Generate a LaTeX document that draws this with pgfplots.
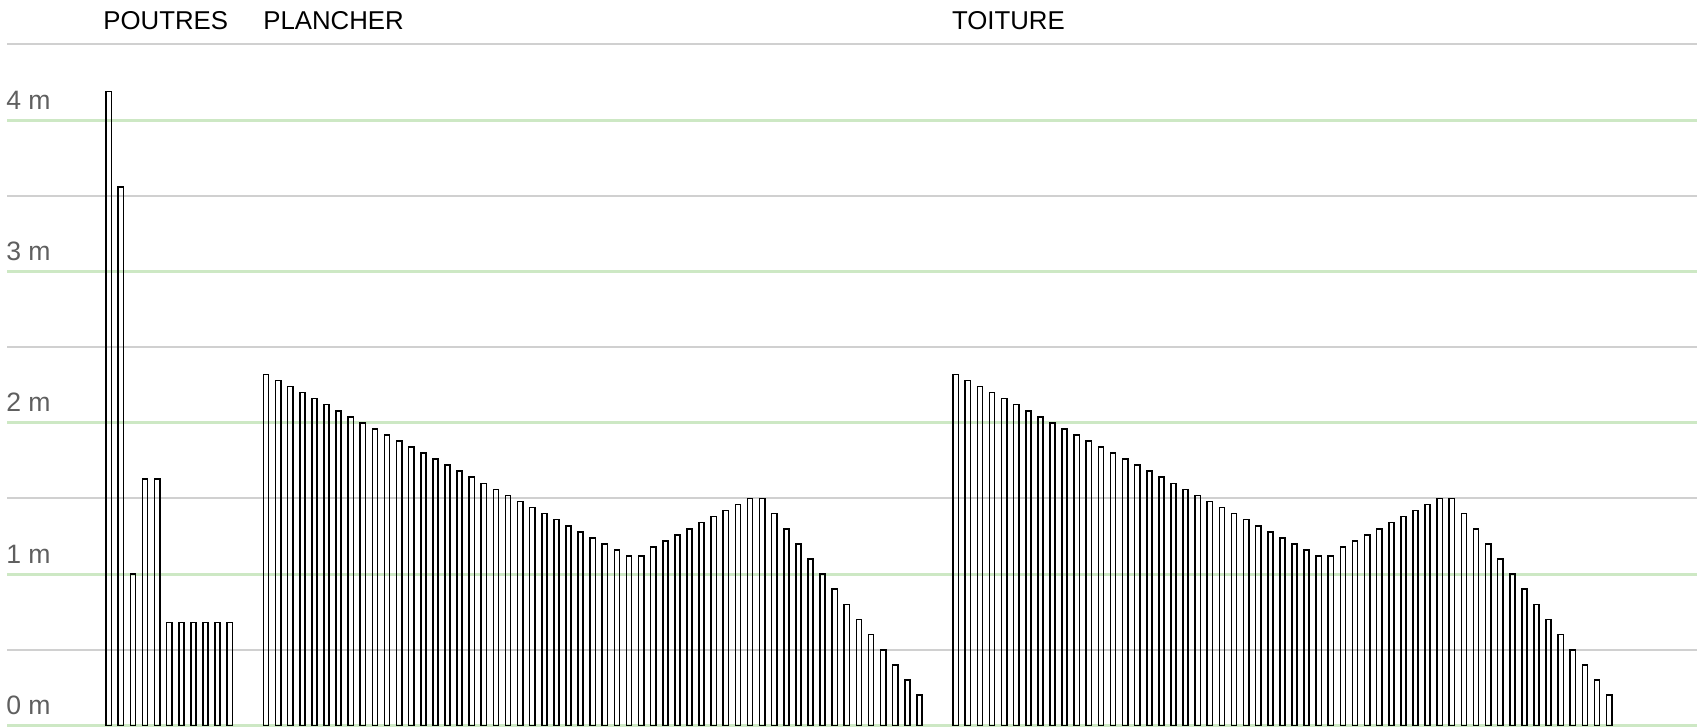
\documentclass[border=0pt]{standalone}
\usepackage{fontspec}
\setmainfont{Liberation Sans}
\usepackage{pgfplots}
\usepackage{pgfplotstable}
\pgfplotsset{compat=1.18}
\definecolor{gridgreen}{RGB}{205,232,196}
\definecolor{gridgray}{RGB}{208,208,208}
\definecolor{labgray}{RGB}{95,95,95}

% bar heights in metres, x = slot index (two empty slots between groups)
\pgfplotstableread{
x h
0 4.19
1 3.56
2 1.00
3 1.63
4 1.63
5 0.68
6 0.68
7 0.68
8 0.68
9 0.68
10 0.68
}\poutres
\pgfplotstableread{
x h
13 2.32
14 2.28
15 2.24
16 2.20
17 2.16
18 2.12
19 2.08
20 2.04
21 2.00
22 1.96
23 1.92
24 1.88
25 1.84
26 1.80
27 1.76
28 1.72
29 1.68
30 1.64
31 1.60
32 1.56
33 1.52
34 1.48
35 1.44
36 1.40
37 1.36
38 1.32
39 1.28
40 1.24
41 1.20
42 1.16
43 1.12
44 1.12
45 1.18
46 1.22
47 1.26
48 1.30
49 1.34
50 1.38
51 1.42
52 1.46
53 1.50
54 1.50
55 1.40
56 1.30
57 1.20
58 1.10
59 1.00
60 0.90
61 0.80
62 0.70
63 0.60
64 0.50
65 0.40
66 0.30
67 0.20
}\plancher
\pgfplotstableread{
x h
70 2.32
71 2.28
72 2.24
73 2.20
74 2.16
75 2.12
76 2.08
77 2.04
78 2.00
79 1.96
80 1.92
81 1.88
82 1.84
83 1.80
84 1.76
85 1.72
86 1.68
87 1.64
88 1.60
89 1.56
90 1.52
91 1.48
92 1.44
93 1.40
94 1.36
95 1.32
96 1.28
97 1.24
98 1.20
99 1.16
100 1.12
101 1.12
102 1.18
103 1.22
104 1.26
105 1.30
106 1.34
107 1.38
108 1.42
109 1.46
110 1.50
111 1.50
112 1.40
113 1.30
114 1.20
115 1.10
116 1.00
117 0.90
118 0.80
119 0.70
120 0.60
121 0.50
122 0.40
123 0.30
124 0.20
}\toiture

\begin{document}
\begin{tikzpicture}[
  ylab/.style={anchor=base west, labgray, inner sep=0pt, yshift=5.5pt,
    font=\fontsize{13.3}{15}\selectfont},
  grp/.style={anchor=base west, inner sep=0pt,
    font=\fontsize{12.9}{15}\selectfont}]
\begin{axis}[
  scale only axis, width=845pt, height=340.5pt,
  xmin=-8.41, xmax=131.26, ymin=0, ymax=4.5,
  axis line style={draw=none},
  xtick=\empty,
  ytick={0,1,2,3,4}, minor ytick={0.5,1.5,2.5,3.5,4.5},
  yticklabels={}, major tick length=0pt, minor tick length=0pt,
  ymajorgrids, yminorgrids,
  major grid style={gridgreen, line width=1.6pt},
  minor grid style={gridgray, line width=1pt},
  clip=false,
  mybar/.style={ybar, bar width=0.43, bar shift=0pt, mark=none,
    draw=black, fill=none, line width=0.8pt}
]
  \addplot[mybar] table[x=x, y=h] {\poutres};
  \addplot[mybar] table[x=x, y=h] {\plancher};
  \addplot[mybar] table[x=x, y=h] {\toiture};

  \node[ylab] at (axis cs:-8.5,0) {0 m};
  \node[ylab] at (axis cs:-8.5,1) {1 m};
  \node[ylab] at (axis cs:-8.5,2) {2 m};
  \node[ylab] at (axis cs:-8.5,3) {3 m};
  \node[ylab] at (axis cs:-8.5,4) {4 m};
  \node[grp] at (axis cs:-0.48,4.60) {POUTRES};
  \node[grp] at (axis cs:12.74,4.60) {PLANCHER};
  \node[grp] at (axis cs:69.66,4.60) {TOITURE};

  \coordinate (bl) at (axis cs:-8.99,-0.0099);
  \coordinate (tr) at (axis cs:131.26,4.794);
\end{axis}
\pgfresetboundingbox
\path (bl) rectangle (tr);
\end{tikzpicture}
\end{document}
